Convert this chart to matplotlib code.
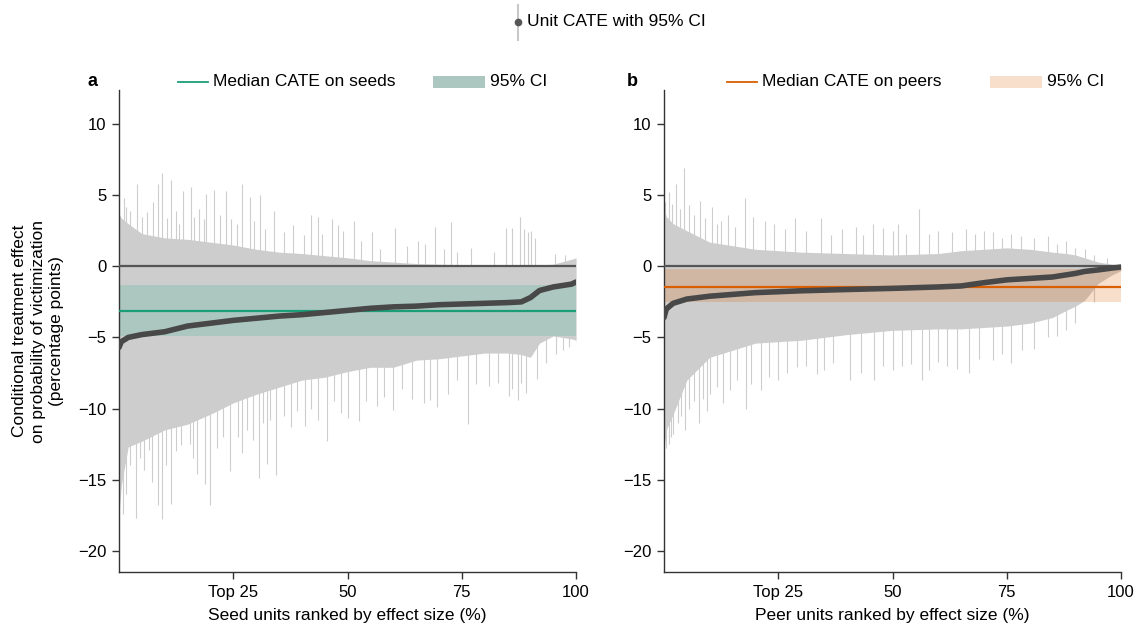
import matplotlib.pyplot as plt
from matplotlib.lines import Line2D
from matplotlib.patches import Rectangle

plt.rcParams['font.family'] = ['Liberation Sans', 'DejaVu Sans']

# rank positions (%) used for the curves / envelopes
seed_rank = [0, 0.5, 2, 5, 10, 15, 20, 25, 30, 35, 40, 45, 50, 55, 60, 65, 70, 75, 80, 85, 88, 90, 92, 95, 99, 100]
seed_cate = [-5.7, -5.3, -5.0, -4.8, -4.6, -4.2, -4.0, -3.8, -3.65, -3.5, -3.4, -3.25, -3.1, -2.95, -2.85, -2.8, -2.7, -2.65, -2.6, -2.55, -2.5, -2.2, -1.7, -1.45, -1.25, -1.1]
seed_upper = [3.7, 3.4, 3.0, 2.3, 2.0, 1.9, 1.7, 1.5, 1.2, 1.0, 0.9, 0.75, 0.6, 0.4, 0.3, 0.2, 0.15, 0.12, 0.1, 0.1, 0.1, 0.1, 0.1, 0.15, 0.5, 0.6]
seed_lower = [-17.4, -15.4, -12.7, -12.3, -11.5, -11.1, -10.4, -9.6, -9.0, -8.5, -8.0, -7.8, -7.4, -7.1, -7.1, -6.6, -6.5, -6.3, -6.1, -6.1, -6.2, -6.4, -5.4, -4.9, -5.1, -5.2]

seed_spike_up_x = [3.9, 7.5, 8.6, 9.3, 11.4, 14.0, 15.7, 19.1, 20.7, 23.4, 26.9, 28.7, 30.9, 34.0, 42.0, 46.5, 48.0, 51.3, 55.4, 60.4, 65.4, 69.2, 72.6, 77.1, 84.6, 87.7, 90.1, 91.1, 95.4, 97.6,
                   1.0, 1.5, 2.5, 5.0, 6.2, 10.5, 12.5, 13.2, 16.5, 17.6, 18.5, 22.0, 24.5, 25.8, 29.5, 32.0, 36.0, 38.0, 40.5, 43.5, 44.5, 49.0, 53.0, 57.0, 63.0, 67.0, 71.0, 74.0, 82.0, 86.0, 88.5, 89.5]
seed_spike_up_y = [5.8, 4.5, 5.8, 6.6, 6.05, 5.3, 5.6, 5.1, 5.4, 5.3, 5.8, 4.9, 5.0, 3.9, 3.6, 3.3, 2.9, 3.2, 2.4, 2.7, 1.8, 2.8, 3.1, 1.3, 2.7, 3.5, 2.5, 2.0, 0.9, 0.8,
                   4.8, 4.2, 3.9, 3.5, 3.8, 3.4, 3.9, 3.0, 3.5, 4.0, 3.3, 3.6, 3.3, 3.0, 3.2, 2.6, 2.4, 2.9, 2.2, 3.5, 2.3, 2.5, 1.8, 1.2, 1.4, 1.6, 1.2, 1.0, 1.0, 2.7, 2.6, 2.4]
seed_spike_lo_x = [0.8, 3.8, 7.3, 8.6, 9.3, 11.4, 17.1, 18.9, 20.0, 24.2, 27.0, 30.6, 32.3, 34.4, 37.6, 40.7, 45.6, 50.1, 52.5, 60.0, 64.2, 66.8, 69.6, 76.3, 80.9, 85.3, 87.2, 89.1, 91.4, 97.2,
                   1.5, 2.3, 4.5, 5.5, 6.5, 10.2, 12.5, 13.5, 15.5, 16.2, 21.5, 22.8, 26.0, 28.0, 29.2, 31.5, 33.0, 36.0, 39.0, 42.0, 43.5, 47.0, 48.5, 54.0, 56.5, 58.0, 62.0, 68.0, 72.0, 74.0, 78.0, 83.0, 86.0, 88.0, 93.5, 95.5, 98.5]
seed_spike_lo_y = [-17.4, -17.7, -15.2, -16.8, -17.8, -16.7, -14.6, -15.3, -16.8, -14.4, -13.1, -14.9, -13.9, -14.7, -11.3, -11.2, -12.3, -10.7, -10.9, -10.1, -9.3, -9.6, -9.9, -11.1, -8.4, -9.1, -9.4, -8.9, -7.9, -5.9,
                   -16.0, -14.0, -13.5, -14.3, -12.9, -14.0, -13.0, -12.6, -12.5, -13.5, -12.8, -12.0, -12.0, -11.5, -12.2, -11.0, -10.8, -10.5, -10.2, -10.0, -10.8, -9.5, -10.3, -9.5, -9.8, -9.2, -8.6, -9.4, -9.0, -8.0, -8.3, -8.2, -8.6, -8.2, -6.8, -6.2, -5.7]
seed_median = -3.17
seed_ci = (-4.93, -1.34)

peer_rank = [0, 0.5, 2, 5, 10, 20, 30, 40, 50, 60, 65, 70, 75, 80, 85, 88, 90, 92, 95, 98, 100]
peer_cate = [-3.6, -3.0, -2.6, -2.3, -2.1, -1.85, -1.72, -1.63, -1.55, -1.45, -1.38, -1.15, -0.95, -0.85, -0.75, -0.6, -0.5, -0.36, -0.25, -0.12, -0.05]
peer_upper = [4.2, 3.5, 3.0, 2.5, 1.7, 1.2, 1.0, 0.9, 0.8, 0.9, 1.1, 1.2, 1.3, 1.2, 1.0, 0.9, 0.8, 0.6, 0.3, 0.15, 0.1]
peer_lower = [-12.8, -11.5, -10.4, -8.0, -6.4, -5.4, -5.2, -4.8, -4.5, -4.4, -4.4, -4.3, -4.2, -4.0, -3.6, -3.1, -2.8, -2.4, -1.2, -0.6, -0.3]

peer_spike_up_x = [1.0, 2.7, 4.4, 7.8, 10.5, 14.0, 17.8, 22.0, 28.6, 34.4, 39.0, 45.8, 51.2, 55.7, 60.0, 66.0, 72.0, 78.0, 84.0, 88.0, 92.0,
                   0.3, 1.8, 3.5, 5.5, 6.5, 9.0, 11.5, 12.5, 15.5, 19.5, 24.0, 26.5, 31.0, 36.5, 42.0, 43.5, 48.0, 50.0, 53.0, 58.0, 63.0, 68.0, 70.0, 74.0, 76.0, 81.0, 86.0, 90.0, 94.0, 97.0]
peer_spike_up_y = [5.2, 5.8, 6.9, 4.6, 4.2, 3.6, 4.8, 3.2, 3.4, 3.4, 2.6, 3.0, 3.0, 4.0, 2.5, 2.6, 2.4, 2.1, 2.1, 1.8, 1.2,
                   4.5, 4.4, 4.0, 4.3, 3.6, 3.4, 3.0, 3.2, 2.8, 3.5, 3.0, 2.6, 2.5, 2.2, 2.8, 2.2, 2.7, 2.5, 2.3, 2.3, 2.4, 2.3, 2.5, 2.0, 2.3, 2.0, 1.6, 1.3, 0.8, 0.6]
peer_spike_lo_x = [0.5, 1.5, 3.0, 4.6, 7.7, 10.0, 13.0, 17.9, 21.3, 25.0, 29.0, 33.5, 40.8, 45.9, 52.0, 58.0, 62.0, 66.7, 72.0, 78.4, 84.0, 88.0,
                   1.0, 2.0, 3.7, 5.5, 6.5, 8.5, 9.3, 11.5, 14.5, 16.0, 19.0, 23.0, 27.0, 31.0, 35.0, 37.0, 43.0, 48.0, 50.0, 54.0, 56.5, 60.0, 64.0, 69.0, 74.0, 76.0, 81.0, 86.0, 90.0, 94.0]
peer_spike_lo_y = [-12.8, -12.0, -11.0, -11.5, -11.0, -9.0, -9.6, -10.0, -8.7, -8.0, -7.1, -7.6, -8.0, -8.0, -7.0, -7.3, -7.0, -7.5, -6.6, -5.9, -5.0, -4.5,
                   -12.5, -11.8, -10.5, -10.0, -9.5, -9.3, -10.2, -8.5, -8.7, -8.0, -8.3, -7.8, -7.5, -7.0, -7.3, -6.8, -7.5, -7.0, -7.3, -6.9, -8.0, -6.7, -7.2, -6.5, -6.2, -6.8, -5.8, -4.9, -4.0, -2.5]
peer_median = -1.48
peer_ci = (-2.53, -0.21)

GRAY = '#cdcdcd'
DARK = '#484848'

fig = plt.figure(figsize=(11.37, 6.24), dpi=100)
ax_a = fig.add_axes([0.1047, 0.0833, 0.402, 0.7724])
ax_b = fig.add_axes([0.584, 0.0833, 0.402, 0.7724])


def draw_panel(ax, rank, cate, upper, lower, sx_up, sy_up, sx_lo, sy_lo, median, ci, color, band_kw):
    ax.fill_between(rank, lower, upper, color=GRAY, lw=0, zorder=1)
    ax.vlines(sx_up, 0, sy_up, color=GRAY, lw=0.8, zorder=1)
    ax.vlines(sx_lo, sy_lo, -1, color=GRAY, lw=0.8, zorder=1)
    ax.fill_between([0, 100], ci[0], ci[1], lw=0, zorder=2, **band_kw)
    ax.plot([0, 100], [0, 0], color='#555555', lw=1.6, zorder=3)
    ax.plot([0, 100], [median, median], color=color, lw=1.6, zorder=3)
    ax.plot(rank, cate, color=DARK, lw=4, solid_capstyle='round', zorder=4)

    ax.set_xlim(0, 100)
    ax.set_ylim(-21.5, 12.4)
    ax.set_xticks([25, 50, 75, 100])
    ax.set_xticklabels(['Top 25', '50', '75', '100'])
    ax.set_yticks([-20, -15, -10, -5, 0, 5, 10])
    ax.set_yticklabels(['\u221220', '\u221215', '\u221210', '\u22125', '0', '5', '10'])
    for s in ['top', 'right']:
        ax.spines[s].set_visible(False)
    for s in ['left', 'bottom']:
        ax.spines[s].set_color('#333333')
        ax.spines[s].set_linewidth(1.0)
    ax.tick_params(direction='out', length=5, width=1, color='#333333', labelsize=12, pad=4)


draw_panel(ax_a, seed_rank, seed_cate, seed_upper, seed_lower,
           seed_spike_up_x, seed_spike_up_y, seed_spike_lo_x, seed_spike_lo_y,
           seed_median, seed_ci, '#1b9e77', dict(color='#abc7bf'))
draw_panel(ax_b, peer_rank, peer_cate, peer_upper, peer_lower,
           peer_spike_up_x, peer_spike_up_y, peer_spike_lo_x, peer_spike_lo_y,
           peer_median, peer_ci, '#d95f02', dict(color='#d95f02', alpha=0.2))

ax_a.set_xlabel('Seed units ranked by effect size (%)', fontsize=12.5, labelpad=6)
ax_b.set_xlabel('Peer units ranked by effect size (%)', fontsize=12.5, labelpad=6)
ax_a.set_ylabel('Conditional treatment effect\non probability of victimization\n(percentage points)',
                fontsize=12.5, labelpad=10, linespacing=1.3)

# panel legends
legend_a = dict(letter='a', lx=-0.068, x0=0.129, x1=0.195, tx=0.206, px=0.687, pw=0.114, ptx=0.812,
                label='Median CATE on seeds', color='#1b9e77', patch='#abc7bf', alpha=1)
legend_b = dict(letter='b', lx=-0.081, x0=0.138, x1=0.204, tx=0.214, px=0.713, pw=0.114, ptx=0.838,
                label='Median CATE on peers', color='#d95f02', patch='#d95f02', alpha=0.2)
for ax, lg in [(ax_a, legend_a), (ax_b, legend_b)]:
    y = 1.017
    ax.text(lg['lx'], y, lg['letter'], transform=ax.transAxes, fontsize=13, fontweight='bold',
            va='center', ha='left')
    ax.plot([lg['x0'], lg['x1']], [y, y], transform=ax.transAxes, color=lg['color'], lw=1.3, clip_on=False)
    ax.text(lg['tx'], y, lg['label'], transform=ax.transAxes, fontsize=12.5, va='center', ha='left')
    ax.add_patch(Rectangle((lg['px'], y - 0.0125), lg['pw'], 0.025, transform=ax.transAxes,
                           facecolor=lg['patch'], alpha=lg['alpha'], lw=0, clip_on=False))
    ax.text(lg['ptx'], y, '95% CI', transform=ax.transAxes, fontsize=12.5, va='center', ha='left')

# top legend: unit CATE with CI
fig.add_artist(Line2D([518 / 1137, 518 / 1137], [1 - 5 / 624, 1 - 40 / 624], color='#c8c8c8', lw=1.5))
fig.add_artist(Line2D([518 / 1137], [1 - 22 / 624], marker='o', ms=4.5, color='#555555', lw=0))
fig.text(527 / 1137, 1 - 22 / 624, 'Unit CATE with 95% CI', fontsize=12.5, va='center', ha='left')

fig.savefig('out.png', dpi=100)
